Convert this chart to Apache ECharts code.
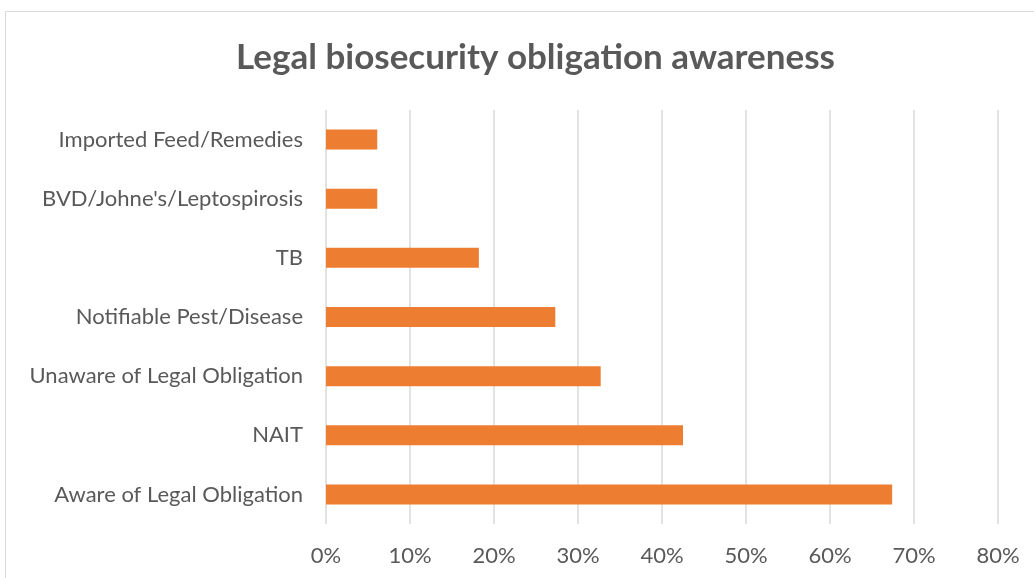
<!DOCTYPE html>
<html>
<head>
    <meta charset="utf-8">
    <title>Legal biosecurity obligation awareness</title>
    <script src="https://cdn.jsdelivr.net/npm/echarts@6/dist/echarts.min.js"></script>
    <style>
        html, body { margin: 0; padding: 0; background: #fff; }
        #main { width: 1034px; height: 578px; }
    </style>
</head>
<body>
<div id="main"></div>
<script>
    // categories, bottom to top as drawn on the y axis
    var categories = ['Aware of Legal Obligation', 'NAIT', 'Unaware of Legal Obligation',
        'Notifiable Pest/Disease', 'TB', "BVD/Johne's/Leptospirosis", 'Imported Feed/Remedies'];
    // percentages
    var values = [67.4, 42.5, 32.7, 27.3, 18.2, 6.1, 6.1];
    var tickStep = 10;
    var axisMax = 80;

    var myChart = echarts.init(document.getElementById('main'));
    var option = {
        backgroundColor: '#fff',
        title: {
            text: 'Legal biosecurity obligation awareness',
            left: 231,
            top: 35,
            textStyle: {
                fontFamily: 'Lato',
                fontSize: 35,
                fontWeight: 'bold',
                color: '#595959'
            }
        },
        graphic: [{
            type: 'rect',
            shape: { x: 5.5, y: 11.5, width: 1100, height: 700 },
            style: { fill: 'none', stroke: '#d9d9d9', lineWidth: 1 },
            silent: true
        }],
        grid: {
            left: 326,
            right: 36,
            top: 110,
            bottom: 54
        },
        xAxis: {
            type: 'value',
            min: 0,
            max: axisMax,
            interval: tickStep,
            axisLine: { show: false },
            axisTick: { show: false },
            axisLabel: {
                formatter: '{value}%',
                margin: 21,
                fontFamily: 'Lato',
                fontSize: 22,
                color: '#595959'
            },
            splitLine: { lineStyle: { color: '#d9d9d9', width: 1.5 } }
        },
        yAxis: {
            type: 'category',
            data: categories,
            axisLine: { show: false },
            axisTick: { show: false },
            axisLabel: {
                margin: 23,
                fontFamily: 'Lato',
                fontSize: 22,
                color: '#595959'
            }
        },
        series: [{
            type: 'bar',
            data: values,
            barWidth: 20,
            itemStyle: { color: '#ED7D31' },
            silent: true
        }]
    };
    myChart.setOption(option);
</script>
</body>
</html>
